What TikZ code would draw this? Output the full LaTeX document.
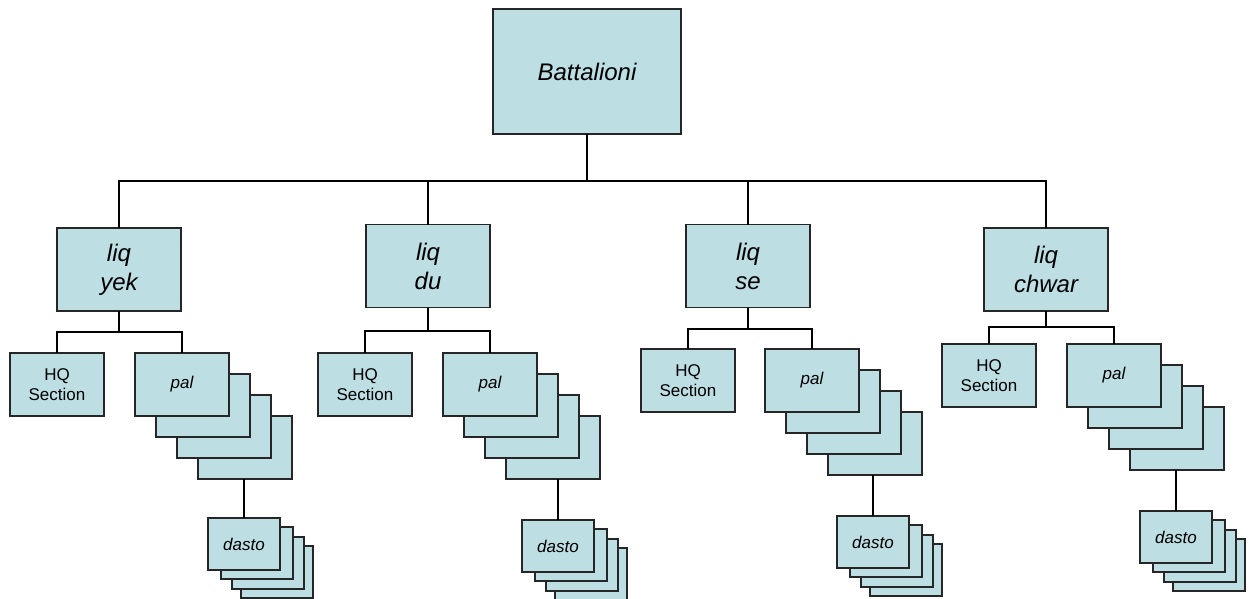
\documentclass[tikz,border=0pt]{standalone}
\usepackage{fontspec}
\setmainfont{Liberation Sans}
\begin{document}
\begin{tikzpicture}[x=1pt,y=-1pt,
  box/.style={draw=black!85, line width=1.4pt, fill=boxfill, inner sep=0pt, outer sep=0pt, align=center, font=\itshape\fontsize{24}{29}\selectfont},
  bigbox/.style={box, minimum width=188pt, minimum height=125pt},
  midbox/.style={box, minimum width=124pt, minimum height=83pt},
  smallbox/.style={box, minimum width=94pt, minimum height=63pt, font=\fontsize{17}{20}\selectfont},
  palbox/.style={smallbox, font=\itshape\fontsize{17}{20}\selectfont},
  dastobox/.style={box, minimum width=72pt, minimum height=52pt, font=\itshape\fontsize{17}{20}\selectfont},
  conn/.style={draw=black, line width=1.6pt}
]
\definecolor{boxfill}{RGB}{189,222,227}
\useasboundingbox (0,0) rectangle (1252,598);

% top
\node[bigbox] (bat) at (587,71.5) {Battalioni};
\coordinate (bus) at (587,181);

% liq nodes
\node[midbox] (yek) at (119,269.5) {liq\\yek};
\node[midbox] (du) at (428,266) {liq\\du};
\node[midbox] (se) at (748,266) {liq\\se};
\node[midbox] (chwar) at (1046,269.5) {liq\\chwar};

\draw[conn] (bat.south) -- (bus);
\draw[conn] (yek.north) |- (bus);
\draw[conn] (du.north) |- (bus);
\draw[conn] (se.north) |- (bus);
\draw[conn] (chwar.north) |- (bus);

% columns: name, HQ x, pal x, y, subbus y, dasto center
\foreach \n/\hx/\px/\yy/\sb/\dx/\dy in {yek/57/182/384.5/332/244/544, du/365/490/384.5/331/558/546, se/688/812/380.5/329/873/542, chwar/989/1114/375.5/327/1176/537}{
  % pal stack (back to front)
  \node[palbox] (\n p4) at (\px+63,\yy+63) {};
  \node[palbox] (\n p3) at (\px+42,\yy+42) {};
  \node[palbox] (\n p2) at (\px+21,\yy+21) {};
  \node[palbox] (\n pal) at (\px,\yy) {pal};
  \node[smallbox] (\n hq) at (\hx,\yy) {HQ\\Section};
  \coordinate (\n sb) at (\n.south |- 0,\sb);
  \draw[conn] (\n.south) -- (\n sb);
  \draw[conn] (\n hq.north) |- (\n sb) -| (\n pal.north);
  % dasto stack
  \node[dastobox] (\n d4) at (\dx+33,\dy+28) {};
  \node[dastobox] (\n d3) at (\dx+24,\dy+19) {};
  \node[dastobox] (\n d2) at (\dx+13,\dy+9) {};
  \node[dastobox] (\n d) at (\dx,\dy) {dasto};
  \draw[conn] (\n d.north) -- (\n d.north |- \n p4.south);
}
\end{tikzpicture}
\end{document}
